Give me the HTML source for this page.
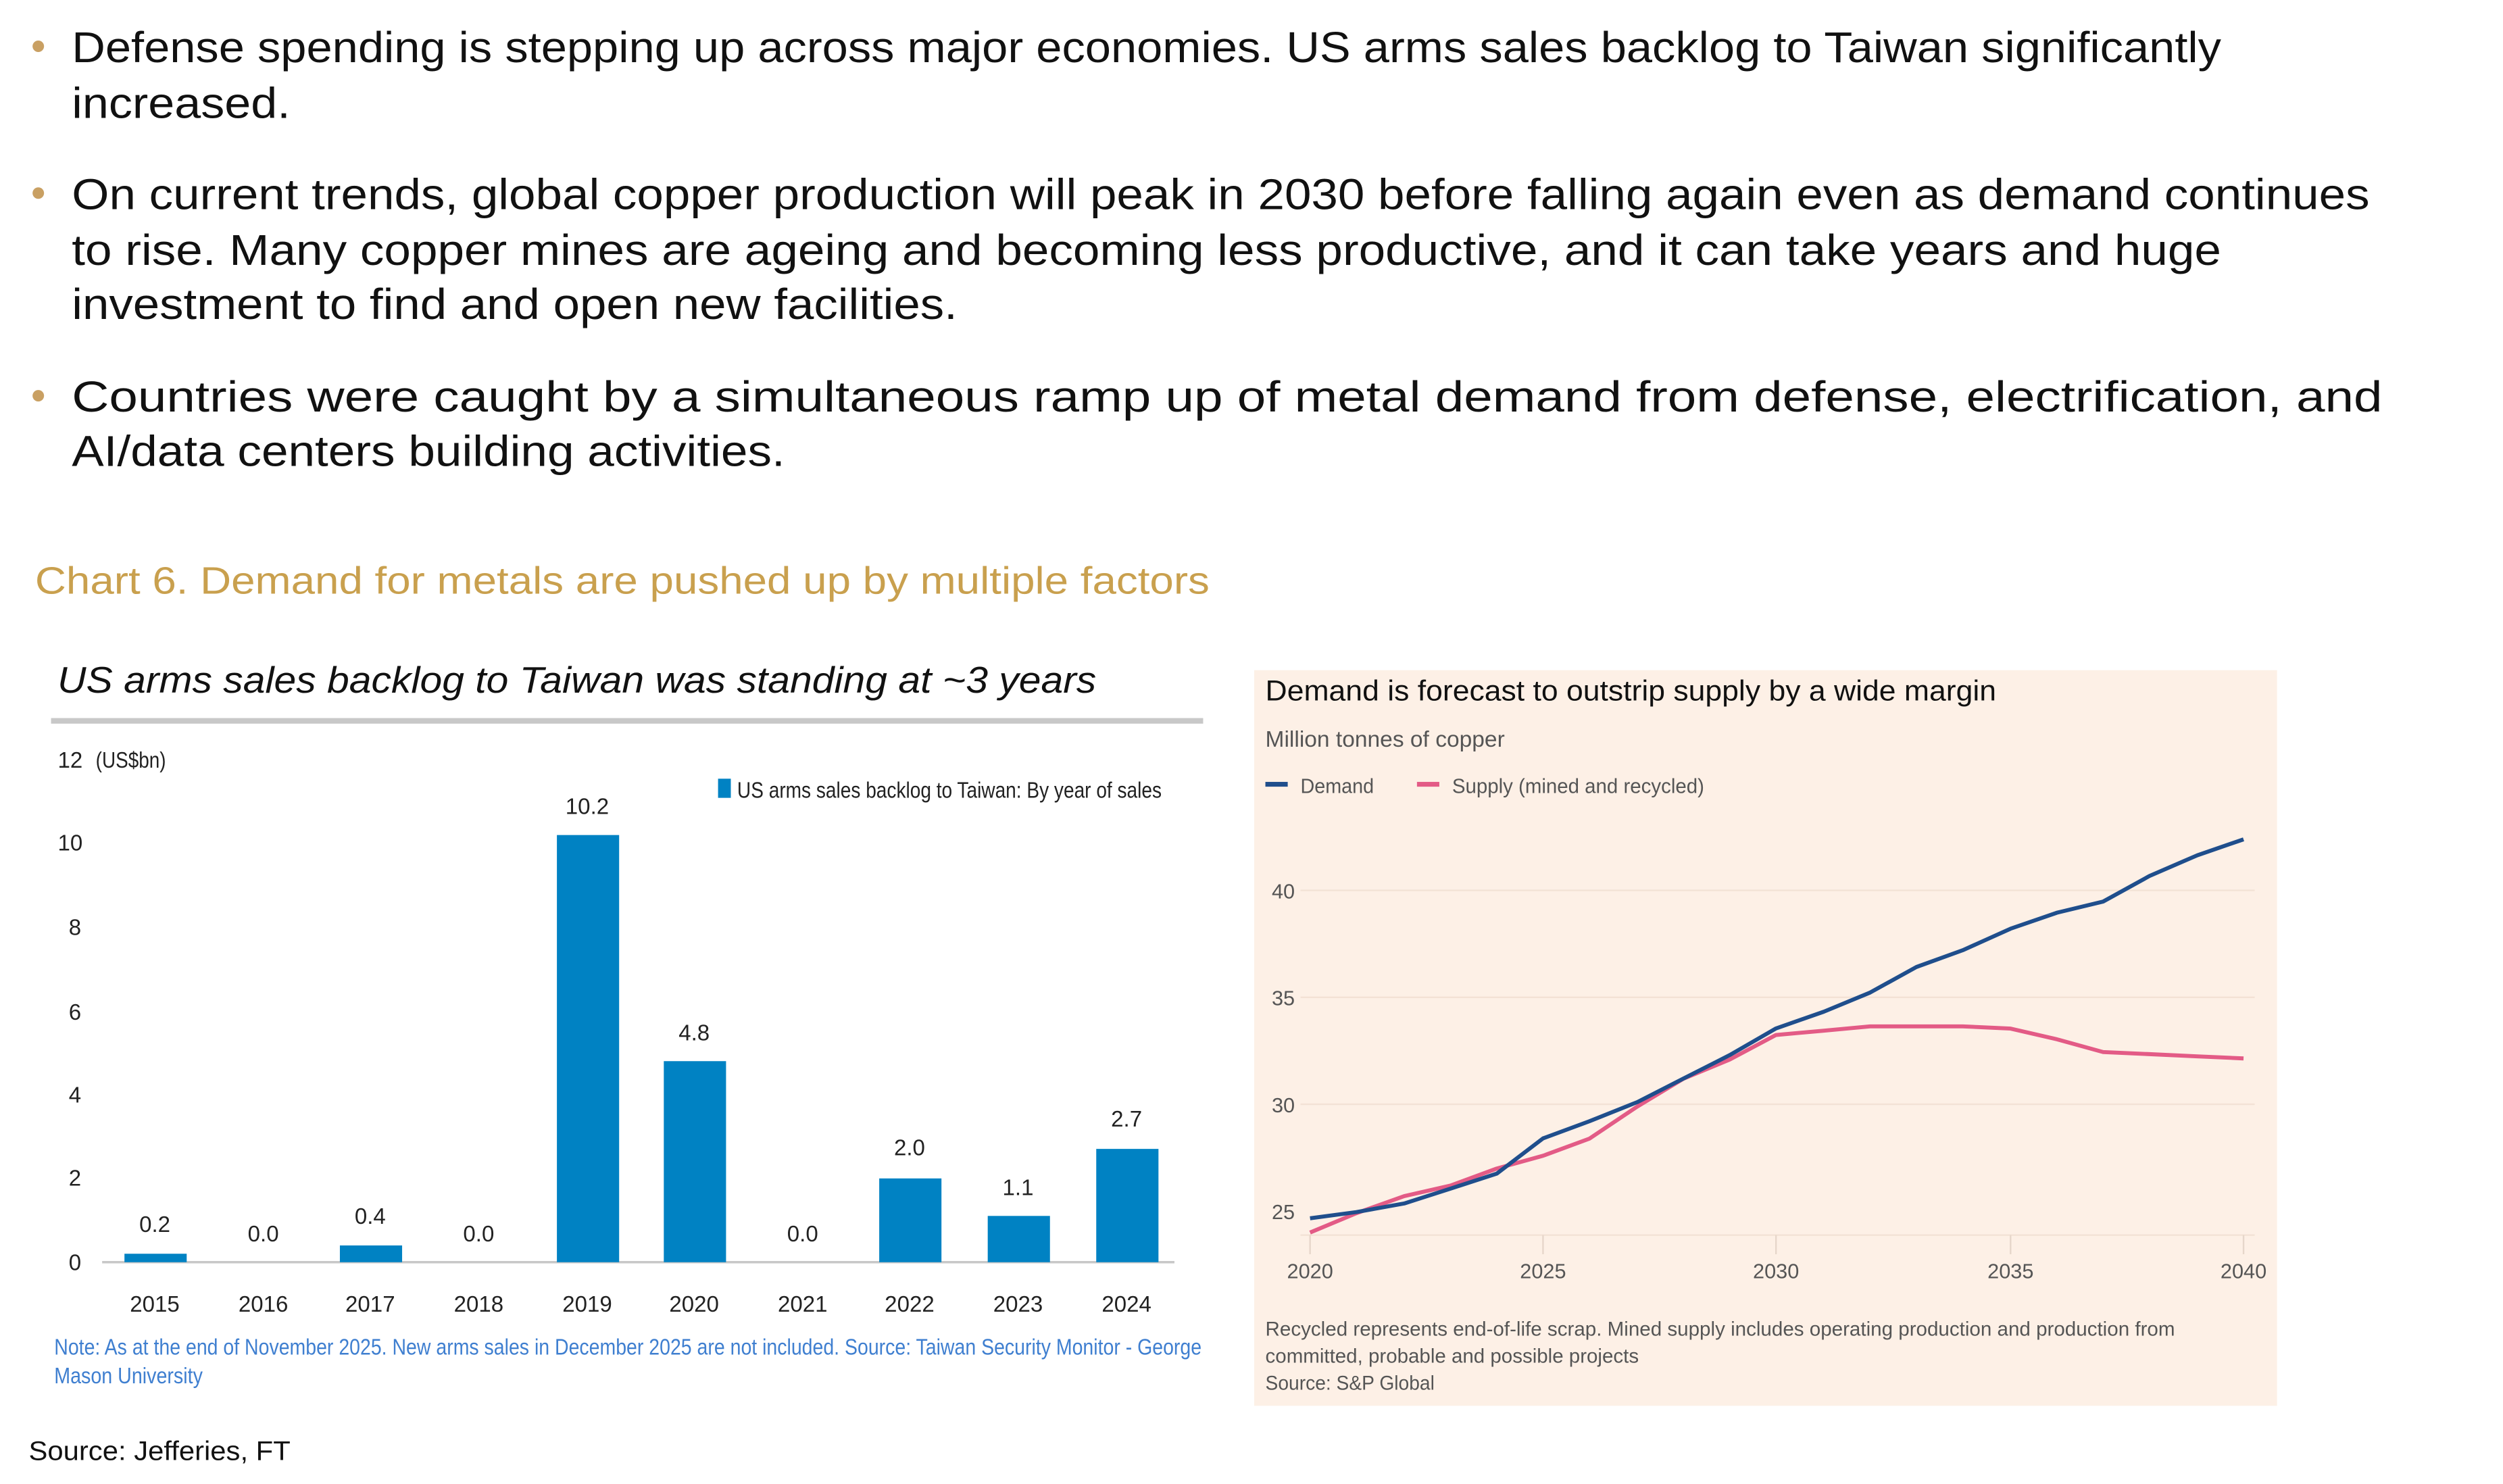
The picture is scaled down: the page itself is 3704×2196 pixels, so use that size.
<!DOCTYPE html>
<html><head><meta charset="utf-8"><style>
html,body{margin:0;padding:0;background:#fff;}
svg{display:block;}
text{font-family:"Liberation Sans",sans-serif;}
</style></head><body>
<svg width="3704" height="2196" viewBox="0 0 1568.6 930" preserveAspectRatio="none" xmlns="http://www.w3.org/2000/svg">
<rect width="1600" height="940" fill="#fff"/>
<g fill="#c9a063"><circle cx="24" cy="29" r="3.6"/><circle cx="24" cy="121" r="3.6"/><circle cx="24" cy="248" r="3.6"/></g>
<g font-size="27" fill="#111">
<text x="45" y="39" textLength="1347" lengthAdjust="spacingAndGlyphs">Defense spending is stepping up across major economies. US arms sales backlog to Taiwan significantly</text>
<text x="45" y="74" textLength="137" lengthAdjust="spacingAndGlyphs">increased.</text>
<text x="45" y="131" textLength="1440" lengthAdjust="spacingAndGlyphs">On current trends, global copper production will peak in 2030 before falling again even as demand continues</text>
<text x="45" y="166" textLength="1347" lengthAdjust="spacingAndGlyphs">to rise. Many copper mines are ageing and becoming less productive, and it can take years and huge</text>
<text x="45" y="200" textLength="555" lengthAdjust="spacingAndGlyphs">investment to find and open new facilities.</text>
<text x="45" y="258" textLength="1448" lengthAdjust="spacingAndGlyphs">Countries were caught by a simultaneous ramp up of metal demand from defense, electrification, and</text>
<text x="45" y="292" textLength="447" lengthAdjust="spacingAndGlyphs">AI/data centers building activities.</text>
</g>
<text x="22" y="372" font-size="24" fill="#c9a04e" textLength="736" lengthAdjust="spacingAndGlyphs">Chart 6. Demand for metals are pushed up by multiple factors</text>
<text x="36" y="434" font-size="23" font-style="italic" fill="#111" textLength="651" lengthAdjust="spacingAndGlyphs">US arms sales backlog to Taiwan was standing at ~3 years</text>
<rect x="32" y="450" width="722" height="3.5" fill="#c8c8c8"/>
<g font-size="14" fill="#222" text-anchor="middle">
<text x="44" y="481">12</text><text x="44" y="533">10</text><text x="47" y="586">8</text><text x="47" y="639">6</text><text x="47" y="691">4</text><text x="47" y="743">2</text><text x="47" y="796">0</text>
</g>
<text x="60" y="481" font-size="14" fill="#222" textLength="44" lengthAdjust="spacingAndGlyphs">(US$bn)</text>
<line x1="64" y1="791" x2="736" y2="791" stroke="#c8c8c8" stroke-width="1.5"/>
<rect x="450" y="488" width="8" height="12" fill="#0082c3"/>
<text x="462" y="500" font-size="14" fill="#222" textLength="266" lengthAdjust="spacingAndGlyphs">US arms sales backlog to Taiwan: By year of sales</text>
<g fill="#0082c3">
<rect x="78" y="785.7" width="39" height="5.3"/>
<rect x="213" y="780.5" width="39" height="10.5"/>
<rect x="349" y="523.3" width="39" height="267.7"/>
<rect x="416" y="665" width="39" height="126"/>
<rect x="551" y="738.5" width="39" height="52.5"/>
<rect x="619" y="762" width="39" height="29"/>
<rect x="687" y="720" width="39" height="71"/>
</g>
<g font-size="14" fill="#222" text-anchor="middle">
<text x="97" y="772">0.2</text><text x="165" y="778">0.0</text><text x="232" y="767">0.4</text><text x="300" y="778">0.0</text>
<text x="368" y="510">10.2</text><text x="435" y="652">4.8</text><text x="503" y="778">0.0</text><text x="570" y="724">2.0</text><text x="638" y="749">1.1</text><text x="706" y="706">2.7</text>
<text x="97" y="822">2015</text><text x="165" y="822">2016</text><text x="232" y="822">2017</text><text x="300" y="822">2018</text><text x="368" y="822">2019</text><text x="435" y="822">2020</text><text x="503" y="822">2021</text><text x="570" y="822">2022</text><text x="638" y="822">2023</text><text x="706" y="822">2024</text>
</g>
<g font-size="14" fill="#3f7fd0">
<text x="34" y="849" textLength="719" lengthAdjust="spacingAndGlyphs">Note: As at the end of November 2025. New arms sales in December 2025 are not included. Source: Taiwan Security Monitor - George</text>
<text x="34" y="867" textLength="93" lengthAdjust="spacingAndGlyphs">Mason University</text>
</g>
<text x="18" y="915" font-size="17" fill="#111" textLength="164" lengthAdjust="spacingAndGlyphs">Source: Jefferies, FT</text>
<rect x="786" y="420" width="641" height="461" fill="#fdf0e6"/>
<text x="793" y="439" font-size="18" fill="#111" textLength="458" lengthAdjust="spacingAndGlyphs">Demand is forecast to outstrip supply by a wide margin</text>
<text x="793" y="468" font-size="14" fill="#555" textLength="150" lengthAdjust="spacingAndGlyphs">Million tonnes of copper</text>
<rect x="793" y="490" width="14" height="3" fill="#1f4e8c"/>
<text x="815" y="497" font-size="13" fill="#555" textLength="46" lengthAdjust="spacingAndGlyphs">Demand</text>
<rect x="888" y="490" width="14" height="3" fill="#e35b86"/>
<text x="910" y="497" font-size="13" fill="#555" textLength="158" lengthAdjust="spacingAndGlyphs">Supply (mined and recycled)</text>
<g stroke="#f3e2d5" stroke-width="1"><line x1="815" y1="558" x2="1413" y2="558"/><line x1="815" y1="625" x2="1413" y2="625"/><line x1="815" y1="692" x2="1413" y2="692"/><line x1="815" y1="774" x2="1413" y2="774"/></g>
<g stroke="#e6d6ca" stroke-width="1">
<line x1="821" y1="774" x2="821" y2="786"/><line x1="967" y1="774" x2="967" y2="786"/><line x1="1113" y1="774" x2="1113" y2="786"/><line x1="1260" y1="774" x2="1260" y2="786"/><line x1="1406" y1="774" x2="1406" y2="786"/>
</g>
<g font-size="13" fill="#555">
<text x="797" y="563">40</text><text x="797" y="630">35</text><text x="797" y="697">30</text><text x="797" y="764">25</text>
</g>
<g font-size="13" fill="#555" text-anchor="middle">
<text x="821" y="801">2020</text><text x="967" y="801">2025</text><text x="1113" y="801">2030</text><text x="1260" y="801">2035</text><text x="1406" y="801">2040</text>
</g>
<polyline fill="none" stroke="#e35b86" stroke-width="2.5" stroke-linejoin="round" points="821,772.4 850,760.3 880,749.6 909,743 938,732.3 967,724.3 996,713.6 1026,693.5 1055,676 1084,664 1113,648.6 1143,645.9 1172,643.2 1201,643.2 1230,643.2 1260,644.6 1289,651.3 1318,659.3 1347,660.6 1377,662 1406,663.3"/>
<polyline fill="none" stroke="#1f4e8c" stroke-width="2.5" stroke-linejoin="round" points="821,763.5 850,759.6 880,754.2 909,744.9 938,735.5 967,713.4 996,702.7 1026,690.7 1055,675.9 1084,661.2 1113,644.5 1143,634 1172,622 1201,606 1230,595.5 1260,582 1289,572 1318,565 1347,549 1377,536 1406,526"/>
<g font-size="12.5" fill="#555">
<text x="793" y="837" textLength="570" lengthAdjust="spacingAndGlyphs">Recycled represents end-of-life scrap. Mined supply includes operating production and production from</text>
<text x="793" y="854" textLength="234" lengthAdjust="spacingAndGlyphs">committed, probable and possible projects</text>
<text x="793" y="871" textLength="106" lengthAdjust="spacingAndGlyphs">Source: S&amp;P Global</text>
</g>
</svg>
</body></html>
